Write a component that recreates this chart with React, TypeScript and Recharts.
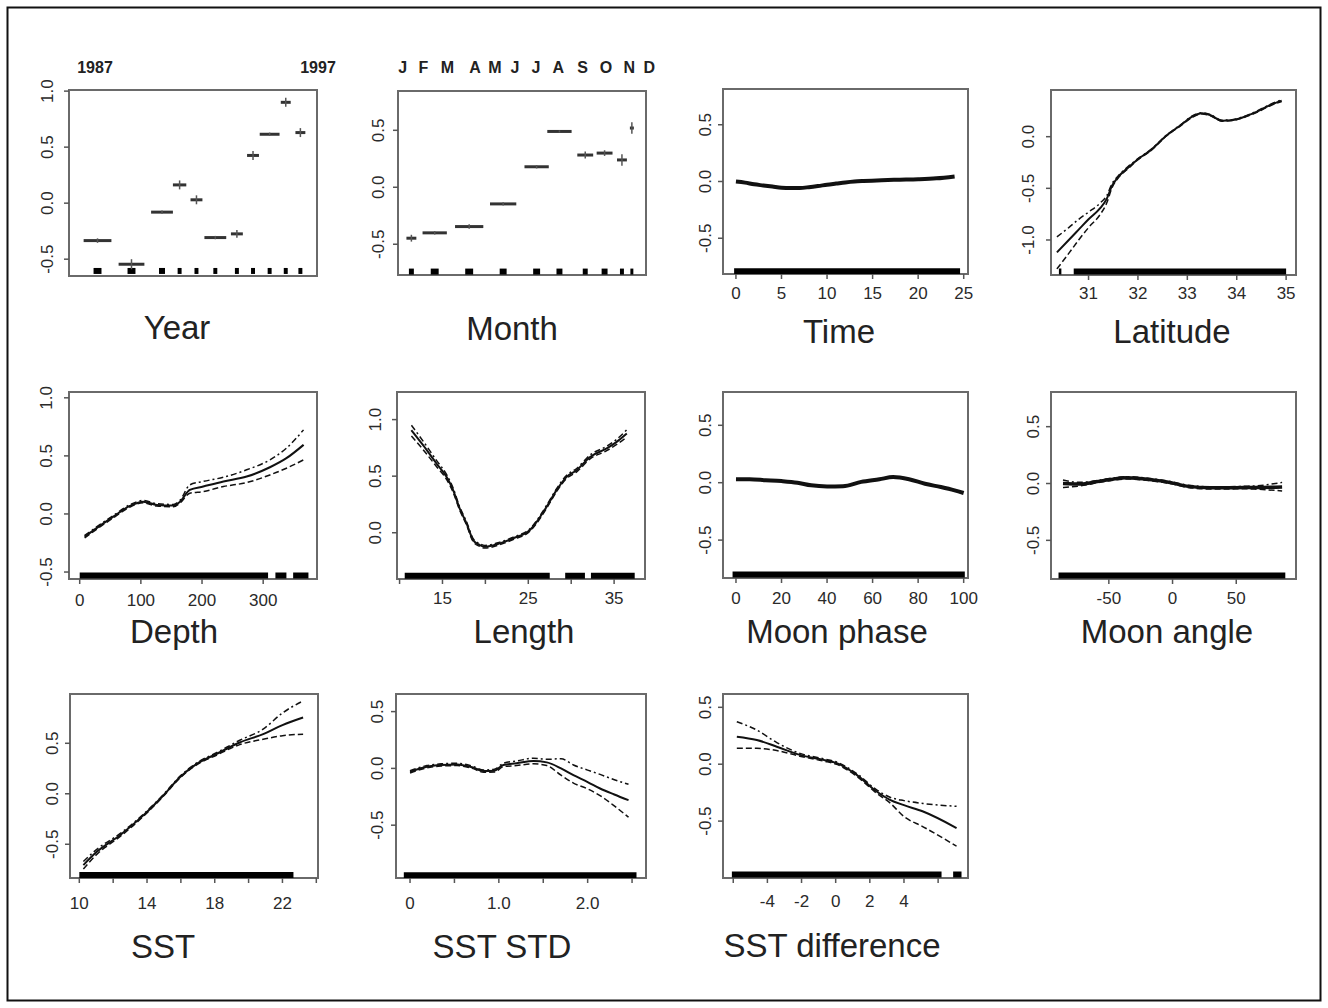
import React from 'react';
import { ComposedChart, Line, Scatter, XAxis, YAxis, ErrorBar, ReferenceArea } from 'recharts';

const FONT = '"Liberation Sans", Arial, Helvetica, sans-serif';

// ---------------- Year (factor) ----------------
const yearTopLabels = ['1987', '1997'];
const yearPos = [11.5, 25.2, 37.5, 44.6, 51.4, 59.0, 67.7, 74.2, 80.9, 87.4, 93.3];
const yearEffect = [-0.334, -0.545, -0.08, 0.163, 0.03, -0.307, -0.274, 0.426, 0.615, 0.9, 0.63];
const yearHalfWidth = [5.6, 5.2, 4.4, 2.7, 2.4, 4.4, 2.4, 2.4, 4.0, 2.0, 2.0];
const yearSE = [0.02, 0.045, 0.015, 0.04, 0.04, 0.015, 0.035, 0.04, 0.015, 0.04, 0.04];
const yearRugHalf = [1.6, 1.6, 1.2, 0.8, 0.8, 0.8, 0.8, 0.8, 0.8, 0.8, 0.8];

// ---------------- Month (factor) ----------------
const monthTopLabels = ['J', 'F', 'M', 'A', 'M', 'J', 'J', 'A', 'S', 'O', 'N', 'D'];
const monthPos = [5.4, 14.8, 28.7, 42.4, 55.9, 65.1, 75.5, 83.3, 90.3, 94.3];
const monthEffect = [-0.447, -0.4, -0.345, -0.146, 0.18, 0.49, 0.283, 0.3, 0.24, 0.52];
const monthHalfWidth = [2.0, 4.9, 5.7, 5.3, 4.9, 4.9, 3.2, 3.2, 2.0, 0.8];
const monthSE = [0.03, 0.015, 0.02, 0.015, 0.015, 0.01, 0.03, 0.025, 0.05, 0.05];
const monthRugHalf = [1.0, 1.6, 1.6, 1.4, 1.4, 1.2, 1.0, 1.2, 0.8, 0.6];

// ---------------- Time ----------------
const timeX = [0, 1, 2, 3, 4, 5, 6, 7, 8, 9, 10, 11, 12, 13, 14, 16, 18, 20, 22, 24];
const timeFit = [0.0, -0.01, -0.025, -0.035, -0.045, -0.055, -0.058, -0.057, -0.05, -0.04, -0.028, -0.018, -0.008, 0.0, 0.005, 0.012, 0.016, 0.02, 0.028, 0.045];
const timeRug: [number, number][] = [[-0.2, 24.6]];

// ---------------- Latitude ----------------
const latX = [30.36, 30.6, 30.8, 31.0, 31.24, 31.37, 31.47, 31.6, 31.8, 31.98, 32.26, 32.59, 32.87, 33.1, 33.3, 33.46, 33.7, 33.93, 34.13, 34.41, 34.68, 34.91];
const latFit = [-1.12, -1.0, -0.9, -0.8, -0.69, -0.6, -0.48, -0.39, -0.3, -0.225, -0.13, 0.016, 0.113, 0.194, 0.226, 0.21, 0.155, 0.162, 0.188, 0.242, 0.307, 0.349];
const latUpper = [-0.97, -0.88, -0.8, -0.73, -0.64, -0.57, -0.46, -0.38, -0.29, -0.22, -0.125, 0.02, 0.118, 0.2, 0.232, 0.216, 0.16, 0.167, 0.193, 0.248, 0.313, 0.357];
const latLower = [-1.28, -1.13, -1.0, -0.88, -0.75, -0.64, -0.5, -0.4, -0.31, -0.23, -0.135, 0.012, 0.108, 0.188, 0.22, 0.204, 0.15, 0.157, 0.183, 0.236, 0.3, 0.341];
const latRug: [number, number][] = [[30.4, 30.45], [30.7, 35.0]];

// ---------------- Depth ----------------
const depthX = [8, 27, 55, 82, 104, 126, 153, 164, 180, 202, 235, 273, 311, 338, 366];
const depthFit = [-0.196, -0.124, -0.023, 0.069, 0.106, 0.078, 0.072, 0.106, 0.207, 0.236, 0.279, 0.322, 0.402, 0.48, 0.595];
const depthUpper = [-0.186, -0.114, -0.013, 0.079, 0.116, 0.088, 0.082, 0.118, 0.25, 0.28, 0.316, 0.38, 0.466, 0.566, 0.724];
const depthLower = [-0.206, -0.134, -0.033, 0.059, 0.096, 0.068, 0.062, 0.094, 0.178, 0.193, 0.236, 0.27, 0.336, 0.394, 0.466];
const depthRug: [number, number][] = [[0, 308], [320, 338], [349, 374]];

// ---------------- Length ----------------
const lenX = [11.38, 12.74, 14.3, 15.47, 16.24, 17.0, 17.8, 18.57, 19.35, 19.94, 21.69, 23.24, 25.19, 27.14, 28.3, 29.47, 30.64, 32.2, 34.14, 35.3, 36.48];
const lenFit = [0.906, 0.774, 0.612, 0.494, 0.377, 0.215, 0.083, -0.065, -0.109, -0.124, -0.094, -0.049, 0.024, 0.23, 0.377, 0.494, 0.553, 0.67, 0.745, 0.803, 0.877];
const lenUpper = [0.95, 0.81, 0.64, 0.515, 0.395, 0.23, 0.097, -0.052, -0.097, -0.112, -0.083, -0.039, 0.035, 0.243, 0.39, 0.508, 0.568, 0.687, 0.765, 0.826, 0.91];
const lenLower = [0.855, 0.735, 0.585, 0.472, 0.358, 0.2, 0.07, -0.078, -0.121, -0.136, -0.105, -0.06, 0.013, 0.217, 0.364, 0.48, 0.538, 0.653, 0.725, 0.78, 0.845];
const lenRug: [number, number][] = [[10.6, 27.5], [29.3, 31.6], [32.3, 37.4]];

// ---------------- Moon phase ----------------
const phaseX = [0, 6, 13, 20, 27, 33, 40, 47, 55, 63, 69, 76, 83, 90, 96, 100];
const phaseFit = [0.03, 0.03, 0.022, 0.014, 0.0, -0.023, -0.032, -0.03, 0.007, 0.03, 0.049, 0.03, -0.009, -0.038, -0.067, -0.09];
const phaseRug: [number, number][] = [[-1.5, 100.5]];

// ---------------- Moon angle ----------------
const angleX = [-86, -72, -60, -49, -36, -18, -2, 11, 30, 43, 56, 66, 86];
const angleFit = [0.0, -0.005, 0.015, 0.035, 0.05, 0.035, 0.009, -0.023, -0.038, -0.038, -0.035, -0.035, -0.03];
const angleUpper = [0.03, 0.01, 0.025, 0.045, 0.06, 0.045, 0.018, -0.013, -0.028, -0.028, -0.024, -0.02, 0.01];
const angleLower = [-0.035, -0.02, 0.005, 0.025, 0.04, 0.025, 0.0, -0.033, -0.048, -0.048, -0.046, -0.05, -0.065];
const angleRug: [number, number][] = [[-89.5, 88.5]];

// ---------------- SST ----------------
const sstX = [10.24, 11.03, 12.4, 13.78, 14.96, 15.94, 16.93, 18.1, 19.48, 20.86, 22.0, 23.22];
const sstFit = [-0.706, -0.575, -0.41, -0.214, -0.017, 0.164, 0.296, 0.394, 0.508, 0.591, 0.68, 0.755];
const sstUpper = [-0.67, -0.55, -0.395, -0.204, -0.009, 0.172, 0.306, 0.406, 0.53, 0.64, 0.8, 0.92];
const sstLower = [-0.745, -0.6, -0.425, -0.224, -0.025, 0.156, 0.286, 0.382, 0.487, 0.54, 0.575, 0.59];
const sstRug: [number, number][] = [[10.0, 22.65]];

// ---------------- SST STD ----------------
const stdX = [0.0, 0.19, 0.35, 0.53, 0.7, 0.83, 0.95, 1.05, 1.2, 1.39, 1.54, 1.7, 1.84, 2.0, 2.14, 2.3, 2.46];
const stdFit = [-0.03, 0.015, 0.03, 0.035, 0.01, -0.024, -0.02, 0.03, 0.045, 0.065, 0.053, 0.0, -0.06, -0.12, -0.177, -0.23, -0.28];
const stdUpper = [-0.02, 0.025, 0.04, 0.045, 0.02, -0.014, -0.008, 0.045, 0.065, 0.09, 0.08, 0.085, 0.03, -0.015, -0.053, -0.1, -0.14];
const stdLower = [-0.04, 0.005, 0.02, 0.025, 0.0, -0.034, -0.032, 0.015, 0.025, 0.04, 0.025, -0.06, -0.13, -0.18, -0.24, -0.33, -0.43];
const stdRug: [number, number][] = [[-0.07, 2.55]];

// ---------------- SST difference ----------------
const diffX = [-5.79, -4.62, -3.45, -2.09, -0.73, 0.06, 1.23, 2.4, 3.18, 4.0, 5.12, 7.08];
const diffFit = [0.242, 0.213, 0.154, 0.082, 0.038, 0.009, -0.094, -0.24, -0.313, -0.36, -0.416, -0.561];
const diffUpper = [0.374, 0.3, 0.19, 0.095, 0.048, 0.019, -0.082, -0.225, -0.29, -0.32, -0.345, -0.37];
const diffLower = [0.14, 0.14, 0.12, 0.07, 0.028, -0.001, -0.106, -0.255, -0.34, -0.46, -0.55, -0.72];
const diffRug: [number, number][] = [[-6.08, 6.2], [6.88, 7.37]];

// ---------------- layout ----------------
interface Curve { xs: number[]; fit: number[]; up?: number[]; lo?: number[]; fitWidth?: number; type?: 'linear' | 'monotone' }
interface Factor { pos: number[]; eff: number[]; half: number[]; se: number[]; rugHalf: number[] }
interface PanelCfg {
  title: string; tx: number; ty: number;
  box: [number, number, number, number];
  xDomain: [number, number]; yDomain: [number, number];
  xTicks: number[]; xLabeled: number[]; xFmt: (v: number) => string;
  yTicks: number[]; yGap: number; xGap: number;
  rugY: number; rug?: [number, number][];
  curve?: Curve; factor?: Factor;
}

const intFmt = (v: number) => String(v);
const oneFmt = (v: number) => (v === 0 ? '0' : v.toFixed(1));

const panels: PanelCfg[] = [
  { title: 'Year', tx: 177, ty: 339, box: [69, 90, 317, 276], xDomain: [0, 100], yDomain: [-0.65, 1.01],
    xTicks: [], xLabeled: [], xFmt: intFmt, yTicks: [-0.5, 0, 0.5, 1.0], yGap: 22, xGap: 19, rugY: -0.605,
    factor: { pos: yearPos, eff: yearEffect, half: yearHalfWidth, se: yearSE, rugHalf: yearRugHalf } },
  { title: 'Month', tx: 512, ty: 340, box: [398, 91, 646, 275], xDomain: [0, 100], yDomain: [-0.77, 0.845],
    xTicks: [], xLabeled: [], xFmt: intFmt, yTicks: [-0.5, 0, 0.5], yGap: 20, xGap: 19, rugY: -0.74,
    factor: { pos: monthPos, eff: monthEffect, half: monthHalfWidth, se: monthSE, rugHalf: monthRugHalf } },
  { title: 'Time', tx: 839, ty: 343, box: [723, 89, 968, 274], xDomain: [-1.42, 25.47], yDomain: [-0.815, 0.815],
    xTicks: [0, 5, 10, 15, 20, 25], xLabeled: [0, 5, 10, 15, 20, 25], xFmt: intFmt, yTicks: [-0.5, 0, 0.5], yGap: 18, xGap: 19, rugY: -0.79,
    rug: timeRug, curve: { xs: timeX, fit: timeFit, fitWidth: 4, type: 'monotone' } },
  { title: 'Latitude', tx: 1172, ty: 343, box: [1051, 90, 1296, 275], xDomain: [30.24, 35.2], yDomain: [-1.339, 0.452],
    xTicks: [31, 32, 33, 34, 35], xLabeled: [31, 32, 33, 34, 35], xFmt: intFmt, yTicks: [-1.0, -0.5, 0], yGap: 23, xGap: 18, rugY: -1.305,
    rug: latRug, curve: { xs: latX, fit: latFit, up: latUpper, lo: latLower, fitWidth: 2, type: 'monotone' } },
  { title: 'Depth', tx: 174, ty: 643, box: [69, 392, 317, 579], xDomain: [-17.5, 388], yDomain: [-0.56, 1.05],
    xTicks: [0, 100, 200, 300], xLabeled: [0, 100, 200, 300], xFmt: intFmt, yTicks: [-0.5, 0, 0.5, 1.0], yGap: 23, xGap: 21, rugY: -0.53,
    rug: depthRug, curve: { xs: depthX, fit: depthFit, up: depthUpper, lo: depthLower, fitWidth: 2, type: 'monotone' } },
  { title: 'Length', tx: 524, ty: 643, box: [397, 392, 645, 579], xDomain: [9.7, 38.6], yDomain: [-0.409, 1.244],
    xTicks: [10, 15, 20, 25, 30, 35], xLabeled: [15, 25, 35], xFmt: intFmt, yTicks: [0, 0.5, 1.0], yGap: 22, xGap: 19, rugY: -0.38,
    rug: lenRug, curve: { xs: lenX, fit: lenFit, up: lenUpper, lo: lenLower, fitWidth: 2, type: 'monotone' } },
  { title: 'Moon phase', tx: 837, ty: 643, box: [723, 392, 968, 578], xDomain: [-5.7, 101.9], yDomain: [-0.83, 0.79],
    xTicks: [0, 20, 40, 60, 80, 100], xLabeled: [0, 20, 40, 60, 80, 100], xFmt: intFmt, yTicks: [-0.5, 0, 0.5], yGap: 18, xGap: 20, rugY: -0.8,
    rug: phaseRug, curve: { xs: phaseX, fit: phaseFit, fitWidth: 4, type: 'monotone' } },
  { title: 'Moon angle', tx: 1167, ty: 643, box: [1051, 392, 1296, 579], xDomain: [-95.4, 96.9], yDomain: [-0.84, 0.805],
    xTicks: [-50, 0, 50], xLabeled: [-50, 0, 50], xFmt: intFmt, yTicks: [-0.5, 0, 0.5], yGap: 18, xGap: 19, rugY: -0.81,
    rug: angleRug, curve: { xs: angleX, fit: angleFit, up: angleUpper, lo: angleLower, fitWidth: 3.5, type: 'monotone' } },
  { title: 'SST', tx: 163, ty: 958, box: [70, 694, 318, 878], xDomain: [9.45, 24.1], yDomain: [-0.834, 0.988],
    xTicks: [10, 12, 14, 16, 18, 20, 22, 24], xLabeled: [10, 14, 18, 22], xFmt: intFmt, yTicks: [-0.5, 0, 0.5], yGap: 18, xGap: 25, rugY: -0.805,
    rug: sstRug, curve: { xs: sstX, fit: sstFit, up: sstUpper, lo: sstLower, fitWidth: 2, type: 'monotone' } },
  { title: 'SST STD', tx: 502, ty: 958, box: [396, 694, 646, 878], xDomain: [-0.158, 2.657], yDomain: [-0.965, 0.655],
    xTicks: [0, 0.5, 1.0, 1.5, 2.0, 2.5], xLabeled: [0, 1.0, 2.0], xFmt: oneFmt, yTicks: [-0.5, 0, 0.5], yGap: 19, xGap: 25, rugY: -0.94,
    rug: stdRug, curve: { xs: stdX, fit: stdFit, up: stdUpper, lo: stdLower, fitWidth: 2, type: 'monotone' } },
  { title: 'SST difference', tx: 832, ty: 957, box: [723, 694, 968, 878], xDomain: [-6.6, 7.75], yDomain: [-1.0, 0.617],
    xTicks: [-6, -4, -2, 0, 2, 4, 6], xLabeled: [-4, -2, 0, 2, 4], xFmt: intFmt, yTicks: [-0.5, 0, 0.5], yGap: 18, xGap: 23, rugY: -0.97,
    rug: diffRug, curve: { xs: diffX, fit: diffFit, up: diffUpper, lo: diffLower, fitWidth: 2, type: 'monotone' } },
];

const yearTopX = [95, 318];
const monthTopX = [402.7, 423.3, 447.3, 475, 495, 515, 536, 558.3, 582.7, 606, 629.3, 649.3];

const TICK_COLOR = '#555';
const LABEL_COLOR = '#2a2a2a';

const makeXTick = (labeled: number[], fmt: (v: number) => string, gap: number) => (p: any) => {
  const v = p.payload.value;
  const show = labeled.some((u) => Math.abs(u - v) < 1e-9);
  if (!show) return <g />;
  const y0 = p.y - 5;
  return (
    <text x={p.x} y={y0 + gap} dy="0.36em" textAnchor="middle" fontSize={17} fill={LABEL_COLOR} fontFamily={FONT}>
      {fmt(v)}
    </text>
  );
};

const makeYTick = (gap: number) => (p: any) => {
  const x0 = p.x + 5;
  const bx = x0 - gap + 6;
  return (
    <text x={bx} y={p.y} transform={`rotate(-90 ${bx} ${p.y})`} textAnchor="middle" fontSize={17} fill={LABEL_COLOR} fontFamily={FONT}>
      {Number(p.payload.value).toFixed(1)}
    </text>
  );
};

const hidden = () => <g />;

const Panel = ({ cfg }: { cfg: PanelCfg }) => {
  const [l, t, r, b] = cfg.box;
  const W = r - l + 70;
  const H = b - t + 50;
  const items: React.ReactNode[] = [];

  items.push(
    <ReferenceArea key="box" x1={cfg.xDomain[0]} x2={cfg.xDomain[1]} y1={cfg.yDomain[0]} y2={cfg.yDomain[1]}
      fill="none" fillOpacity={0} stroke="#6a6a6a" strokeWidth={2} ifOverflow="visible" />
  );

  if (cfg.rug) {
    const rugData = cfg.rug.flatMap(([a, c]) => [
      { x: a, rug: cfg.rugY },
      { x: c, rug: cfg.rugY },
      { x: c, rug: null },
    ]);
    items.push(
      <Line key="rug" data={rugData} dataKey="rug" stroke="#000" strokeWidth={6} dot={false} activeDot={false}
        isAnimationActive={false} connectNulls={false} strokeLinecap="butt" type="linear" />
    );
  }

  if (cfg.curve) {
    const c = cfg.curve;
    const data = c.xs.map((x, i) => ({ x, fit: c.fit[i], up: c.up ? c.up[i] : null, lo: c.lo ? c.lo[i] : null }));
    if (c.up) {
      items.push(<Line key="up" data={data} dataKey="up" stroke="#111" strokeWidth={1.5} strokeDasharray="6 3 2 3"
        dot={false} activeDot={false} isAnimationActive={false} type={c.type || 'linear'} />);
    }
    if (c.lo) {
      items.push(<Line key="lo" data={data} dataKey="lo" stroke="#111" strokeWidth={1.5} strokeDasharray="6 3"
        dot={false} activeDot={false} isAnimationActive={false} type={c.type || 'linear'} />);
    }
    items.push(<Line key="fit" data={data} dataKey="fit" stroke="#111" strokeWidth={c.fitWidth || 2}
      dot={false} activeDot={false} isAnimationActive={false} type={c.type || 'linear'} />);
  }

  if (cfg.factor) {
    const f = cfg.factor;
    const levelData = f.pos.map((x, i) => ({ x, y: f.eff[i], xerr: f.half[i], yerr: f.se[i] }));
    const rugData = f.pos.map((x, i) => ({ x, y: cfg.rugY, xerr: f.rugHalf[i], yerr: 0 }));
    items.push(
      <Scatter key="rugs" data={rugData} dataKey="y" shape={hidden} isAnimationActive={false}>
        <ErrorBar dataKey="xerr" direction="x" width={0} stroke="#000" strokeWidth={6} isAnimationActive={false} />
      </Scatter>
    );
    items.push(
      <Scatter key="levels" data={levelData} dataKey="y" shape={hidden} isAnimationActive={false}>
        <ErrorBar dataKey="xerr" direction="x" width={0} stroke="#333" strokeWidth={3} isAnimationActive={false} />
        <ErrorBar dataKey="yerr" direction="y" width={0} stroke="#555" strokeWidth={1.5} isAnimationActive={false} />
      </Scatter>
    );
  }

  const hasX = cfg.xTicks.length > 0;

  return (
    <div style={{ position: 'absolute', left: l - 60, top: t - 10, width: W, height: H }}>
      <ComposedChart width={W} height={H} margin={{ top: 10, right: 10, bottom: 0, left: 0 }}>
        <XAxis type="number" dataKey="x" domain={cfg.xDomain} allowDataOverflow height={40}
          ticks={hasX ? cfg.xTicks : undefined} interval={0} axisLine={false}
          tickSize={5} tickMargin={0}
          tickLine={hasX ? { stroke: TICK_COLOR, strokeWidth: 1.5 } : false}
          tick={hasX ? makeXTick(cfg.xLabeled, cfg.xFmt, cfg.xGap) : false} />
        <YAxis type="number" dataKey="y" domain={cfg.yDomain} allowDataOverflow width={60}
          ticks={cfg.yTicks} interval={0} axisLine={false} tickSize={5} tickMargin={0}
          tickLine={{ stroke: TICK_COLOR, strokeWidth: 1.5 }} tick={makeYTick(cfg.yGap)} />
        {items}
      </ComposedChart>
    </div>
  );
};

export default function App() {
  return (
    <div style={{ position: 'absolute', left: 0, top: 0, width: 1328, height: 1008, background: '#fff', overflow: 'hidden' }}>
      <svg width={1328} height={1008} style={{ position: 'absolute', left: 0, top: 0 }}>
        <rect x={7.5} y={7.5} width={1313} height={993} fill="none" stroke="#111" strokeWidth={2} />
        {panels.map((p) => (
          <text key={p.title} x={p.tx} y={p.ty} textAnchor="middle" fontSize={33} fill="#222" fontFamily={FONT}>
            {p.title}
          </text>
        ))}
        {yearTopLabels.map((s, i) => (
          <text key={'y' + i} x={yearTopX[i]} y={67} dy="0.36em" textAnchor="middle" fontSize={16} fontWeight="bold" fill="#222" fontFamily={FONT}>
            {s}
          </text>
        ))}
        {monthTopLabels.map((s, i) => (
          <text key={'m' + i} x={monthTopX[i]} y={67} dy="0.36em" textAnchor="middle" fontSize={16} fontWeight="bold" fill="#222" fontFamily={FONT}>
            {s}
          </text>
        ))}
      </svg>
      {panels.map((p) => (
        <Panel key={p.title} cfg={p} />
      ))}
    </div>
  );
}
